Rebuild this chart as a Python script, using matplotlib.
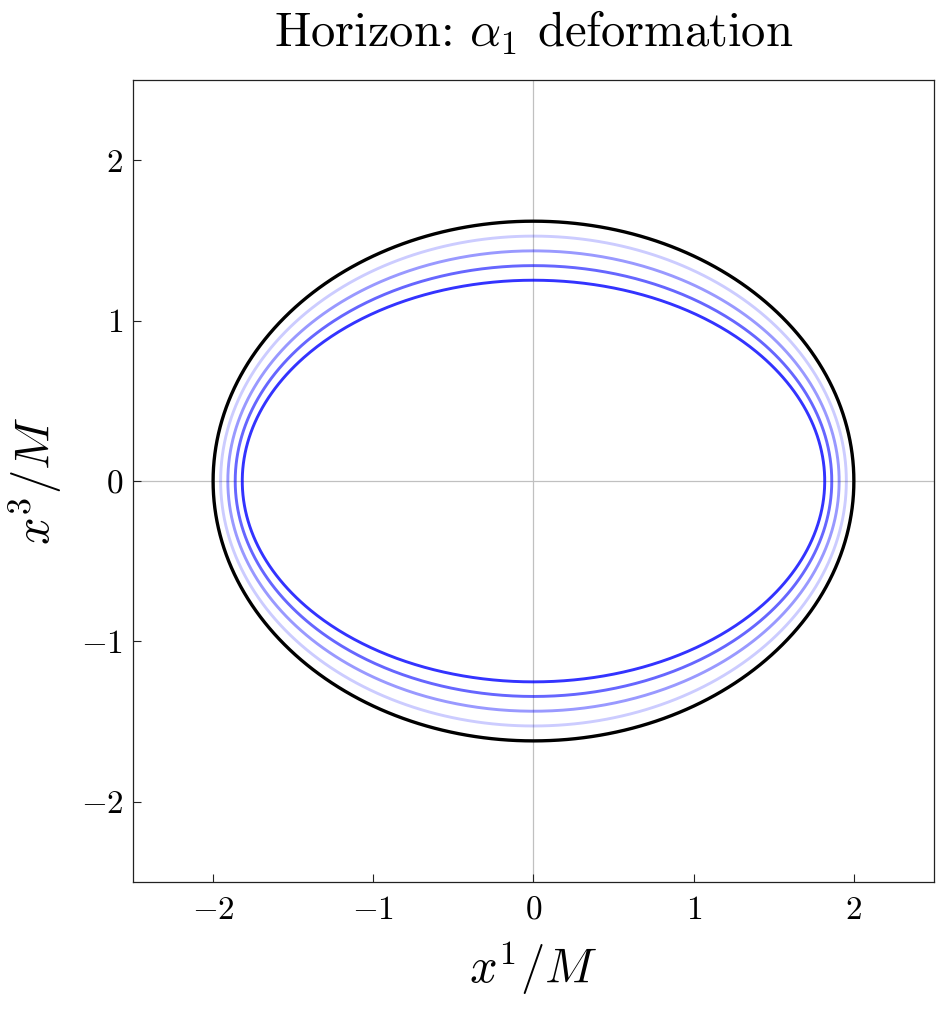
#!/usr/bin/env python3

import numpy as np
import matplotlib

matplotlib.use("Agg")
import matplotlib.pyplot as plt
from matplotlib.ticker import FuncFormatter

plt.rcParams["mathtext.fontset"] = "cm"
plt.rcParams["font.family"] = ["cmr10", "DejaVu Serif"]
plt.rcParams["axes.formatter.use_mathtext"] = True

# semi-axes of the horizon curves (x^1 and x^3 directions)
base_a = 2.0
base_b = 1.62
deformed_a = [1.953, 1.908, 1.862, 1.818]
deformed_b = [1.527, 1.435, 1.343, 1.252]
deformed_alpha = [0.2, 0.4, 0.6, 0.8]

ticks = [-2, -1, 0, 1, 2]


def tick_label(v, pos):
    return r"$%d$" % round(v)


fig = plt.figure(figsize=(9.38, 10.17), dpi=100)
ax = fig.add_axes([0.1418, 0.1327, 0.8539, 0.7886])

t = np.linspace(np.pi / 2, 2.5 * np.pi, 721)

ax.axhline(0, color="#c0c0c0", lw=0.9, zorder=0)
ax.axvline(0, color="#c0c0c0", lw=0.9, zorder=0)

for a, b, al in zip(deformed_a, deformed_b, deformed_alpha):
    ax.plot(a * np.cos(t), b * np.sin(t), color="blue", alpha=al, lw=2.1,
            solid_capstyle="butt", zorder=2)

ax.plot(base_a * np.cos(t), base_b * np.sin(t), color="black", lw=2.4,
        solid_capstyle="butt", zorder=3)

ax.set_xlim(-2.5, 2.5)
ax.set_ylim(-2.5, 2.5)
ax.set_xticks(ticks)
ax.set_yticks(ticks)
ax.xaxis.set_major_formatter(FuncFormatter(tick_label))
ax.yaxis.set_major_formatter(FuncFormatter(tick_label))
ax.tick_params(direction="in", length=6, width=0.8, labelsize=24, color="#222222")
ax.tick_params(axis="x", pad=10)
ax.tick_params(axis="y", pad=7)
for s in ax.spines.values():
    s.set_linewidth(0.9)
    s.set_color("#222222")

ax.set_xlabel(r"$x^1/M$", fontsize=35, labelpad=10)
ax.set_ylabel(r"$x^3/M$", fontsize=35, labelpad=12)
ax.set_title(r"Horizon: $\alpha_1$ deformation", fontsize=35, pad=24)

fig.savefig("out.png", dpi=100)
